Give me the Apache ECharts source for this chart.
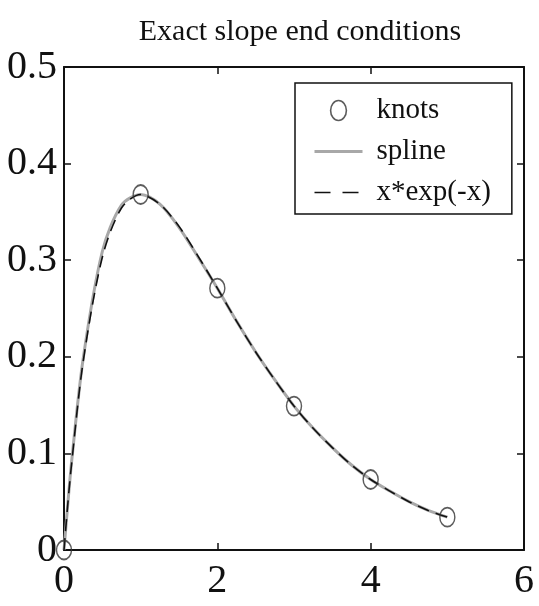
<!DOCTYPE html>
<html>
<head>
<meta charset="utf-8">
<script src="https://cdn.jsdelivr.net/npm/echarts@6/dist/echarts.min.js"></script>
<style>
  html, body { margin: 0; padding: 0; background: #fff; }
  #chart { width: 539px; height: 606px; }
</style>
</head>
<body>
<div id="chart"></div>
<script>
// Knot positions and values
const knotX = [0, 1, 2, 3, 4, 5];
const knotY = [0, 0.368, 0.271, 0.149, 0.073, 0.034];

// Sample abscissas for the two curves
const curveX = [0, 0.05, 0.1, 0.25, 0.5, 0.75, 1, 1.25, 1.5, 1.75, 2, 2.25, 2.5, 2.75, 3, 3.25, 3.5, 3.75, 4, 4.25, 4.5, 4.75, 5];
// Clamped cubic spline through the knots
const splineY = [0, 0.048, 0.092, 0.198, 0.309, 0.357, 0.368, 0.358, 0.334, 0.303, 0.271, 0.237, 0.205, 0.176, 0.149, 0.126, 0.106, 0.088, 0.073, 0.061, 0.050, 0.041, 0.034];
// x*exp(-x)
const exactY = [0, 0.048, 0.090, 0.195, 0.303, 0.354, 0.368, 0.358, 0.335, 0.304, 0.271, 0.237, 0.205, 0.176, 0.149, 0.126, 0.106, 0.088, 0.073, 0.061, 0.050, 0.041, 0.034];

// Axis ticks
const xTicks = [0, 2, 4, 6];
const yTicks = [0, 0.1, 0.2, 0.3, 0.4, 0.5];

const titleText = 'Exact slope end conditions';
const seriesNames = ['knots', 'spline', 'x*exp(-x)'];

const FONT = '"Liberation Serif", "DejaVu Serif", serif';
const INK = '#111';
const SPLINE_GRAY = '#a8a8a8';
const DASH = [12, 7];

const pairs = (xs, ys) => xs.map((x, i) => [x, ys[i]]);

function axisCommon(labelOpt, extra) {
  return Object.assign({
    type: 'value',
    axisLine: { show: true, onZero: false, lineStyle: { color: INK, width: 2 } },
    axisTick: { show: true, inside: true, length: 7, lineStyle: { color: INK, width: 1.5 } },
    splitLine: { show: false },
    axisLabel: labelOpt
  }, extra);
}

const tickLabel = (margin) => ({ show: true, color: INK, fontFamily: FONT, fontSize: 40, margin });
const noLabel = { show: false };

const xMin = xTicks[0], xMax = xTicks[xTicks.length - 1], xStep = xTicks[1] - xTicks[0];
const yMin = yTicks[0], yMax = yTicks[yTicks.length - 1], yStep = +(yTicks[1] - yTicks[0]).toFixed(10);

const chart = echarts.init(document.getElementById('chart'), null, { renderer: 'canvas' });

chart.setOption({
  animation: false,
  backgroundColor: '#fff',
  title: {
    text: titleText,
    left: 295,
    textAlign: 'center',
    top: 12,
    textStyle: { fontFamily: FONT, fontWeight: 'normal', fontSize: 30, color: INK }
  },
  grid: { left: 64, top: 67, right: 15, bottom: 56 },
  xAxis: [
    axisCommon(tickLabel(11), { min: xMin, max: xMax, interval: xStep, position: 'bottom' }),
    axisCommon(noLabel, { min: xMin, max: xMax, interval: xStep, position: 'top' })
  ],
  yAxis: [
    axisCommon(tickLabel(7), { min: yMin, max: yMax, interval: yStep, position: 'left' }),
    axisCommon(noLabel, { min: yMin, max: yMax, interval: yStep, position: 'right' })
  ],
  legend: {
    orient: 'vertical',
    left: 295,
    top: 83,
    padding: [13, 21, 7, 18],
    itemWidth: 48,
    itemHeight: 20,
    itemGap: 12,
    borderColor: INK,
    borderWidth: 1.5,
    backgroundColor: '#fff',
    textStyle: { fontFamily: FONT, fontSize: 29, color: INK, padding: [0, 0, 0, 9] },
    data: [
      {
        name: seriesNames[0],
        icon: 'path://M7.5,0A7.5,9.5,0,1,1,7.49,0Z',
        itemStyle: { color: 'rgba(255,255,255,0)', borderColor: '#333', borderWidth: 1.6 }
      },
      {
        name: seriesNames[1],
        itemStyle: { opacity: 0 },
        lineStyle: { color: SPLINE_GRAY, width: 3 }
      },
      {
        name: seriesNames[2],
        itemStyle: { opacity: 0 },
        lineStyle: { color: INK, width: 1.6, type: [16, 12] }
      }
    ]
  },
  series: [
    {
      name: seriesNames[1],
      type: 'line',
      data: pairs(curveX, splineY),
      smooth: 0.3,
      symbol: 'none',
      itemStyle: { color: SPLINE_GRAY },
      lineStyle: { color: SPLINE_GRAY, width: 3 },
      z: 2
    },
    {
      name: seriesNames[2],
      type: 'line',
      data: pairs(curveX, exactY),
      smooth: 0.3,
      symbol: 'none',
      itemStyle: { color: INK },
      lineStyle: { color: INK, width: 1.6, type: DASH },
      z: 3
    },
    {
      name: seriesNames[0],
      type: 'scatter',
      data: pairs(knotX, knotY),
      symbol: 'circle',
      symbolSize: [15, 19],
      itemStyle: { color: 'rgba(255,255,255,0)', borderColor: '#333', borderWidth: 1.6 },
      z: 4
    }
  ]
});
</script>
</body>
</html>
